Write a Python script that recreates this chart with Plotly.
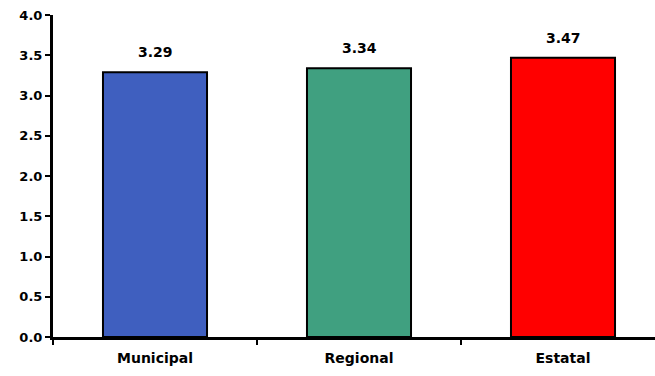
import plotly.graph_objects as go

categories = ["Municipal", "Regional", "Estatal"]
values = [3.29, 3.34, 3.47]
colors = ["#3F5FBF", "#40A080", "#FF0000"]
y_ticks = [0.0, 0.5, 1.0, 1.5, 2.0, 2.5, 3.0, 3.5, 4.0]

font_family = "DejaVu Sans, Arial, sans-serif"

fig = go.Figure(
    go.Bar(
        x=categories,
        y=values,
        width=0.51,
        marker=dict(color=colors, line=dict(color="black", width=2)),
    )
)

# value labels above each bar
for cat, v in zip(categories, values):
    fig.add_annotation(
        x=cat, y=v, text=f"<b>{v:.2f}</b>", showarrow=False,
        yshift=20, font=dict(family=font_family, size=14, color="black"),
    )

fig.update_layout(
    width=655, height=376,
    margin=dict(l=53, r=0, t=15, b=38.5),
    paper_bgcolor="white", plot_bgcolor="white",
    showlegend=False,
    font=dict(family=font_family, color="black"),
)

fig.update_xaxes(
    range=[-0.5, 2.451],
    showline=True, linecolor="black", linewidth=3,
    ticks="outside", tickson="boundaries", ticklen=5, tickwidth=2, tickcolor="black",
    ticklabelstandoff=6,
    tickfont=dict(family=font_family, size=14, color="black", weight="bold"),
    showgrid=False, zeroline=False,
)
fig.update_yaxes(
    range=[0, 4],
    tickvals=y_ticks, ticktext=[f"{t:.1f}" for t in y_ticks],
    showline=True, linecolor="black", linewidth=3,
    ticks="outside", ticklen=5, tickwidth=2, tickcolor="black",
    tickfont=dict(family=font_family, size=13, color="black", weight="bold"),
    showgrid=False, zeroline=False,
)

fig.write_html("out.html")
